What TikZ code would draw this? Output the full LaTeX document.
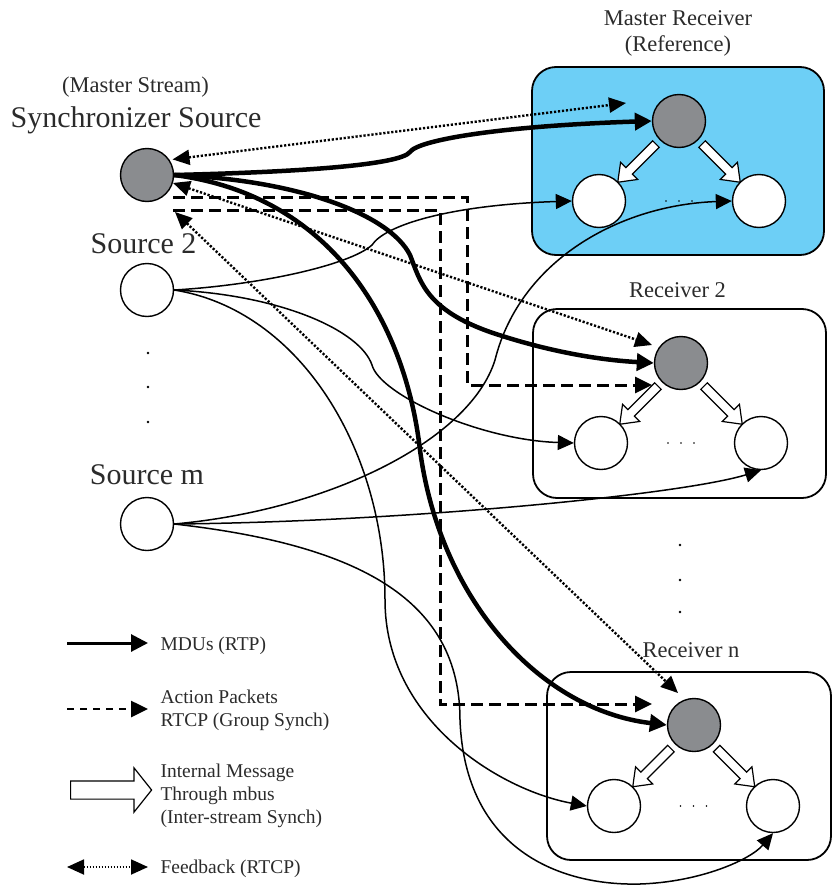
\documentclass[tikz,border=0pt]{standalone}
\usepackage{fontspec}
\setmainfont{Liberation Serif}
\usetikzlibrary{arrows.meta, shapes.arrows, calc}

\definecolor{nodegray}{HTML}{8A8C8F}
\definecolor{refblue}{HTML}{6DCFF6}
\definecolor{inkgray}{HTML}{2B2B2B}

\begin{document}
\begin{tikzpicture}[x=1pt, y=-1pt,
  stream/.style={circle, draw, line width=1.4pt, minimum size=53pt, inner sep=0pt, fill=white},
  master/.style={stream, fill=nodegray},
  recbox/.style={draw, line width=1.8pt, rounded corners=24pt},
  mdu/.style={line width=4.5pt, -{Triangle[length=17pt, width=17pt]}},
  media/.style={line width=1.5pt, -{Triangle[length=16pt, width=15pt]}},
  act/.style={line width=3pt, dash pattern=on 12pt off 6pt, -{Triangle[length=17pt, width=16pt]}},
  fb/.style={line width=2.4pt, dash pattern=on 2.2pt off 1.8pt, {Triangle[length=17pt, width=15pt]}-{Triangle[length=17pt, width=15pt]}},
  intmsg/.style={single arrow, draw, fill=white, line width=1.2pt, inner sep=0pt, inner ysep=4pt, minimum height=54pt, single arrow head extend=7.5pt, single arrow tip angle=74, single arrow head indent=0pt},
  srclabel/.style={font=\fontsize{30}{34}\selectfont, text=inkgray},
  rcvlabel/.style={font=\fontsize{22.5}{26}\selectfont, align=center, text=inkgray},
  legtext/.style={font=\fontsize{19.5}{23}\selectfont, align=left, anchor=west, text=inkgray}]
\useasboundingbox (0,0) rectangle (832,886);

% receiver boxes
\draw[recbox, fill=refblue] (532,67) rectangle (824,255);
\draw[recbox] (533,309) rectangle (826,498);
\draw[recbox] (547,672) rectangle (831,860);
\node[rcvlabel] (tmaster) at (678,33) {Master Receiver\\(Reference)};
\node[rcvlabel, anchor=base] (trec2) at (677.5,297) {Receiver 2};
\node[rcvlabel, anchor=base] (trecn) at (691,657) {Receiver n};

% sources
\node[master] (S0) at (147,175) {};
\node[stream] (S2) at (147,290) {};
\node[stream] (Sm) at (147,524) {};
\node[rcvlabel, anchor=base] (tms) at (135.5,92) {(Master Stream)};
\node[srclabel, anchor=base] (tsync) at (136,127) {Synchronizer Source};
\node[srclabel, anchor=base] (tsrc2) at (143.5,253) {Source 2};
\node[srclabel, anchor=base] (tsrcm) at (147,484) {Source m};
\foreach \y in {353,387,422}
  \fill (148,\y) circle (1.4);

% receiver streams
\node[master] (G1) at (679,121) {};
\node[stream] (L1) at (599,201) {};
\node[stream] (R1) at (759,201) {};
\node[master] (G2) at (681,363) {};
\node[stream] (L2) at (601,443) {};
\node[stream] (R2) at (761,443) {};
\node[master] (G3) at (694,725) {};
\node[stream] (L3) at (614,806) {};
\node[stream] (R3) at (773,806) {};
\foreach \g/\l/\r in {G1/L1/R1, G2/L2/R2, G3/L3/R3} {
  \node[intmsg, rotate=-135] at ($(\g)!0.5!(\l)$) {};
  \node[intmsg, rotate=-45] at ($(\g)!0.5!(\r)$) {};
  \foreach \d in {-13,0,13}
    \fill ($(\l)!0.5!(\r)+(\d,0)$) circle (0.8);
}
\foreach \y in {545,580,612}
  \fill (680,\y) circle (1.4);

% action packets
\coordinate (a1) at (173,197);
\coordinate (a2) at (652,385);
\coordinate (a3) at (173,210);
\coordinate (a4) at (652,704);
\draw[act] (a1) -| (467,385) -- (a2);
\draw[act] (a3) -| (440,704) -- (a4);

% feedback
\coordinate (f1) at (626,103);
\coordinate (f2) at (652,345);
\coordinate (f3s) at (175,212);
\coordinate (f3) at (678,693);
\draw[fb, shorten <=3pt] (S0.34) -- (f1);
\draw[fb] (S0.-17) -- (f2);
\draw[fb] (f3s) -- (f3);

% MDUs of the master stream
\draw[mdu] (S0.east) .. controls (300,172) and (400,165) .. (410,152)
  .. controls (418,140) and (500,126) .. (G1.west);
\draw[mdu] (S0.east) .. controls (300,180) and (390,215) .. (410,255)
  .. controls (420,280) and (425,310) .. (493,333)
  .. controls (550,352) and (600,360) .. (G2.west);
\draw[mdu] (S0.east) .. controls (330,195) and (405,320) .. (420,450)
  .. controls (440,600) and (540,710) .. (G3.west);

% MDUs of the other streams
\draw[media] (S2.east) .. controls (260,285) and (350,265) .. (372,245)
  .. controls (385,225) and (450,205) .. (L1.west);
\draw[media] (S2.east) .. controls (280,295) and (360,330) .. (372,365)
  .. controls (380,395) and (480,440) .. (L2.west);
\draw[media] (S2.east) .. controls (300,310) and (385,450) .. (385,600)
  .. controls (385,720) and (500,790) .. (L3.west);
\draw[media] (Sm.east) .. controls (330,510) and (470,440) .. (495,360)
  .. controls (520,260) and (620,205) .. (R1.west);
\draw[media] (Sm.east) .. controls (400,522) and (680,495) .. (R2.south);
\draw[media] (Sm.east) .. controls (360,545) and (460,600) .. (460,720)
  .. controls (465,850) and (560,886) .. (640,884)
  .. controls (700,882) and (750,860) .. (R3.south);

% legend
\draw[mdu, line width=3pt] (67,643) -- (148,643);
\node[legtext, anchor=base west] (lmdu) at (157,650) {MDUs (RTP)};
\draw[act, line width=2.6pt, dash pattern=on 7pt off 6pt] (67,709) -- (148,709);
\node[legtext] (lact) at (157,710) {Action Packets\\RTCP (Group Synch)};
\node[intmsg, minimum height=81pt, inner ysep=8.5pt, single arrow head extend=13pt, single arrow tip angle=103] (lint) at (107.5,790) {};
\node[legtext] (lintt) at (157,796) {Internal Message\\Through mbus\\(Inter-stream Synch)};
\draw[fb, line width=1.8pt, dash pattern=on 1.6pt off 1.4pt] (67,867) -- (148,867);
\node[legtext, anchor=base west] (lfb) at (157,873) {Feedback (RTCP)};
\end{tikzpicture}
\end{document}
